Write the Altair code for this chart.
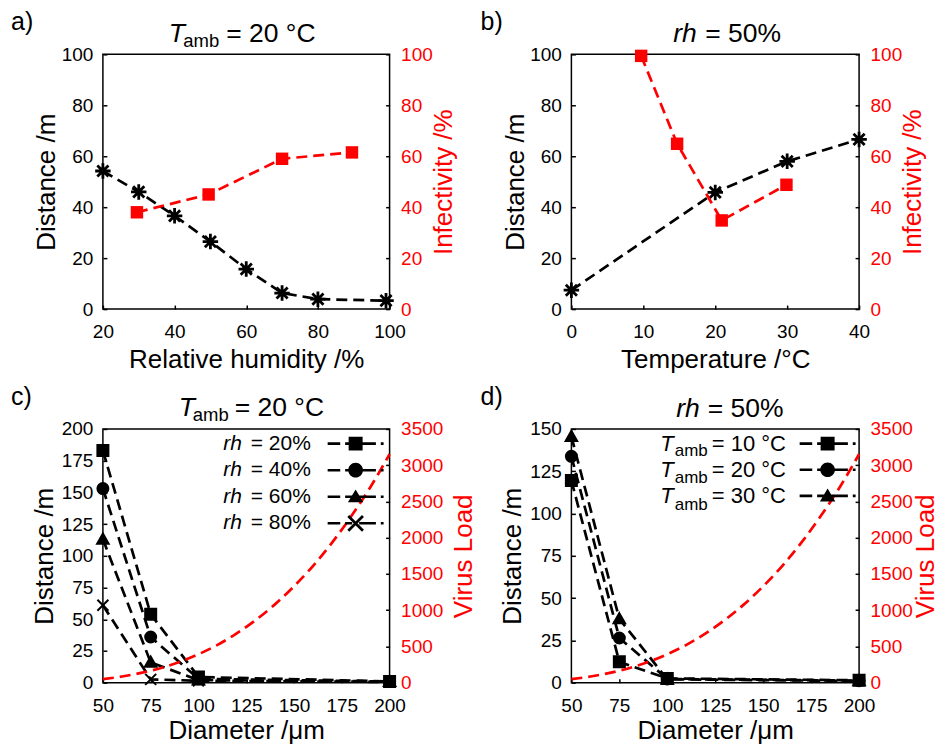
import altair as alt
import pandas as pd

FONT = "Liberation Sans"
RED = "#ff0000"
BLACK = "#000000"

# ---------------- data ----------------
# a) T_amb = 20 °C : distance and infectivity vs relative humidity
a_rh = [20, 30, 40, 50, 60, 70, 80, 99]
a_distance = [54.2, 46.0, 36.6, 26.5, 15.7, 6.3, 3.9, 3.3]
a_inf_rh = [29.5, 49.5, 70, 89.5]
a_infectivity = [38.0, 45.0, 59.0, 61.5]

# b) rh = 50% : distance and infectivity vs temperature
b_temp = [0, 20, 30, 40]
b_distance = [7.4, 45.8, 58.0, 66.6]
b_inf_temp = [9.7, 14.7, 20.9, 29.9]
b_infectivity = [99.4, 64.9, 34.8, 48.8]

# c), d) distance vs droplet diameter
diameters = [50, 75, 100, 200]
c_series = ["rh = 20%", "rh = 40%", "rh = 60%", "rh = 80%"]
c_rh20 = [183.0, 54.0, 4.5, 1.0]
c_rh40 = [153.0, 36.0, 3.0, 0.9]
c_rh60 = [113.0, 16.0, 2.0, 0.8]
c_rh80 = [61.0, 2.6, 1.5, 0.6]
d_series = ["Tamb = 10 °C", "Tamb = 20 °C", "Tamb = 30 °C"]
d_t10 = [119.5, 12.3, 2.5, 1.4]
d_t20 = [133.8, 26.4, 2.2, 1.2]
d_t30 = [145.5, 37.7, 2.0, 1.0]

# virus load (red dashed curve)
vl_diameter = [50, 60, 70, 80, 90, 100, 110, 120, 130, 140, 150, 160, 170, 180, 190, 200]
vl_load = [48, 85, 135, 200, 285, 392, 522, 680, 865, 1080, 1330, 1612, 1935, 2298, 2700, 3152]

# axis ticks
a_xticks = [20, 40, 60, 80, 100]
b_xticks = [0, 10, 20, 30, 40]
cd_xticks = [50, 75, 100, 125, 150, 175, 200]
pct_ticks = [0, 20, 40, 60, 80, 100]
c_yticks = [0, 25, 50, 75, 100, 125, 150, 175, 200]
d_yticks = [0, 25, 50, 75, 100, 125, 150]
vl_ticks = [0, 500, 1000, 1500, 2000, 2500, 3000, 3500]

# texts
panel_labels = ["a)", "b)", "c)", "d)"]
x_titles = ["Relative humidity /%", "Temperature /°C", "Diameter /μm", "Diameter /μm"]
dist_title = "Distance /m"
inf_title = "Infectivity /%"
vl_title = "Virus Load"
c_legend_rest = ["= 20%", "= 40%", "= 60%", "= 80%"]
d_legend_rest = ["= 10 °C", "= 20 °C", "= 30 °C"]

# ---------------- styles ----------------
W1, W2 = 287, 288
H1, H2 = 255, 254
DASH = [11, 6]
LW = 2.7
TFS = 26.5  # panel title font size

ASTER = "M-1,0H1M0,-1V1M-0.72,-0.72L0.72,0.72M-0.72,0.72L0.72,-0.72"
SQ = "M-1,-1H1V1H-1Z"
CIRC = "M-1,0A1,1 0 1,1 1,0A1,1 0 1,1 -1,0Z"
TRI = "M0,-1.05L1.05,0.8H-1.05Z"
XC = "M-1,-1L1,1M-1,1L1,-1"


def _rect(x1, x2, t=0.18):
    return f"M{x1:.2f},{-t:.2f}H{x2:.2f}V{t:.2f}H{x1:.2f}Z"


def leg_path(c, kind):
    # legend sample built only from filled pieces (all wound the same way): dash, dash, marker, dash, dot
    p = _rect(c - 4, c - 2.2) + _rect(c - 1.5, c - 0.5) + _rect(c + 0.5, c + 2.9) + _rect(c + 3.6, c + 4.0)
    if kind == "sq":
        p += f"M{c-1.0:.2f},-1.0H{c+1.0:.2f}V1.0H{c-1.0:.2f}Z"
    elif kind == "ci":
        p += f"M{c-1.05:.2f},0A1.05,1.05 0 1,1 {c+1.05:.2f},0A1.05,1.05 0 1,1 {c-1.05:.2f},0Z"
    elif kind == "tr":
        p += f"M{c:.2f},-1.05L{c+1.1:.2f},0.8H{c-1.1:.2f}Z"
    else:
        a, d = 1.05, 0.14
        p += (f"M{c-a+d:.2f},{-a-d:.2f}L{c+a+d:.2f},{a-d:.2f}L{c+a-d:.2f},{a+d:.2f}L{c-a-d:.2f},{-a+d:.2f}Z"
              f"M{c+a-d:.2f},{-a-d:.2f}L{c+a+d:.2f},{-a+d:.2f}L{c-a+d:.2f},{a+d:.2f}L{c-a-d:.2f},{a-d:.2f}Z")
    return p


def x_enc(domain, values, title, w, ty):
    return alt.X("x:Q", scale=alt.Scale(domain=domain, nice=False, zero=False),
                 axis=alt.Axis(orient="bottom", values=values, title=title, offset=-4, tickSize=4,
                               labelPadding=13.5, format="d", titleX=w / 2, titleY=ty,
                               titleAlign="center", titleBaseline="alphabetic", titleAngle=0))


def y_left(domain, values, h, tx):
    return alt.Y("y:Q", scale=alt.Scale(domain=domain, nice=False, zero=False),
                 axis=alt.Axis(orient="left", values=values, title=dist_title, offset=-4, tickSize=4,
                               labelPadding=10, format="d", titleAngle=270, titleX=tx, titleY=h / 2,
                               titleAlign="center", titleBaseline="alphabetic"))


def y_right(domain, values, title, h, tx):
    return alt.Y("y:Q", scale=alt.Scale(domain=domain, nice=False, zero=False),
                 axis=alt.Axis(orient="right", values=values, title=title, offset=-4, tickSize=4,
                               labelPadding=11, format="d", labelColor=RED, titleColor=RED,
                               titleAngle=270, titleX=tx, titleY=h / 2, titleAlign="center",
                               titleBaseline="alphabetic"))


def txt(s, x, y, size, style="normal"):
    return alt.Chart(pd.DataFrame({"t": [s]})).mark_text(
        align="left", baseline="alphabetic", font=FONT, fontSize=size, fontStyle=style, color=BLACK
    ).encode(text="t:N", x=alt.value(x), y=alt.value(y))


def title_T(x_t, x_amb, x_rest, y, rest):
    return [txt("T", x_t, y, TFS, "italic"), txt("amb", x_amb, y + 5, 18.5), txt(rest, x_rest, y, TFS)]


def title_rh(x_rh, x_rest, y, rest):
    return [txt("rh", x_rh, y, TFS, "italic"), txt(rest, x_rest, y, TFS)]


def legend(fs, **kw):
    # labels start at the legend origin (label offset = minus the entry offset)
    return alt.Legend(title=None, orient="none", direction="vertical", padding=0,
                      labelFont=FONT, labelColor=BLACK, labelLimit=400, labelBaseline="middle",
                      labelAlign="left", labelFontSize=fs, labelOffset={"expr": str(-fs)}, **kw)


# ---------------- panels a and b ----------------
def panel_ab(xs, ds, ixs, ivs, xdom, xticks, xtitle, w, h, txl, txr, label, lx, ly, titles):
    ddf = pd.DataFrame({"x": xs, "y": ds})
    idf = pd.DataFrame({"x": ixs, "y": ivs})
    xe = x_enc(xdom, xticks, xtitle, w, 62.5)
    yl = y_left([0, 100], pct_ticks, h, txl)
    yr = y_right([0, 100], pct_ticks, inf_title, h, txr)
    left = alt.layer(
        alt.Chart(ddf).mark_line(color=BLACK, strokeDash=DASH, strokeWidth=LW).encode(x=xe, y=yl),
        alt.Chart(ddf).mark_point(shape=ASTER, size=240, filled=False, color=BLACK, strokeWidth=2.8,
                                  opacity=1).encode(x=xe, y=yl),
    )
    right = alt.layer(
        alt.Chart(idf).mark_line(color=RED, strokeDash=DASH, strokeWidth=LW).encode(x=xe, y=yr),
        alt.Chart(idf).mark_square(size=155, color=RED, filled=True, opacity=1).encode(x=xe, y=yr),
    )
    layers = [left, right, txt(label, lx, ly, 25)] + titles
    return alt.layer(*layers).resolve_scale(y="independent").properties(width=w, height=h)


pa = panel_ab(a_rh, a_distance, a_inf_rh, a_infectivity, [20, 100], a_xticks, x_titles[0], W1, H1,
              -52, 66, panel_labels[0], -92, -24.5, title_T(66, 80.5, 123.5, -12, "= 20 °C"))
pb = panel_ab(b_temp, b_distance, b_inf_temp, b_infectivity, [0, 40], b_xticks, x_titles[1], W2, H1,
              -52, 65, panel_labels[1], -91, -24.5, title_rh(102, 134, -12, "= 50%"))


# ---------------- panels c and d ----------------
def panel_cd(series, vals, ydom, yticks, w, h, label, lx, ly, titles, legends, marks, txr):
    rows = []
    for s, v in zip(series, vals):
        for x, y in zip(diameters, v):
            rows.append({"x": x, "y": y, "s": s})
    ddf = pd.DataFrame(rows)
    vdf = pd.DataFrame({"x": vl_diameter, "y": vl_load})
    xe = x_enc([50, 200], cd_xticks, x_titles[2], w, 60)
    yl = y_left(ydom, yticks, h, -54.5)
    yr = y_right([0, 3500], vl_ticks, vl_title, h, txr)
    left = alt.layer(
        alt.Chart(ddf).mark_line(color=BLACK, strokeDash=DASH, strokeWidth=LW).encode(
            x=xe, y=yl, detail="s:N"),
        alt.Chart(ddf).mark_point(filled=True, fill=BLACK, stroke=BLACK, strokeWidth=2, size=121,
                                  opacity=1).encode(
            x=xe, y=yl, shape=alt.Shape("s:N", scale=alt.Scale(domain=series, range=marks), legend=None)),
    )
    right = alt.Chart(vdf).mark_line(color=RED, strokeDash=DASH, strokeWidth=LW,
                                     interpolate="monotone").encode(x=xe, y=yr)
    layers = [left, right] + legends + [txt(label, lx, ly, 25)] + titles
    return alt.layer(*layers).resolve_scale(
        y="independent", shape="independent", fill="independent", stroke="independent"
    ).properties(width=w, height=h)


# legend of c  (rows ~26 px apart; text, then line+marker sample)
c_leg_df = pd.DataFrame({"lab": c_legend_rest, "lab_rh": c_legend_rest})
cY = 4.2
cC = (253 - 148 - 10.5) / 7
c_leg_sym = alt.Chart(c_leg_df).transform_filter("false").mark_point(
    filled=True, fill=BLACK, size=196, opacity=1
).encode(shape=alt.Shape("lab:N", scale=alt.Scale(
    domain=c_legend_rest, range=[leg_path(cC, k) for k in ["sq", "ci", "tr", "x"]]),
    legend=legend(21, legendX=148, legendY=cY, rowPadding=4.6, symbolSize=196, symbolStrokeWidth=0,
                  symbolFillColor=BLACK, symbolOpacity=1)))
c_leg_rh = alt.Chart(c_leg_df).transform_filter("false").mark_point(size=0, opacity=0).encode(
    fill=alt.Fill("lab_rh:N", scale=alt.Scale(domain=c_legend_rest),
                  legend=legend(21, legendX=120.5, legendY=cY, rowPadding=4.6, labelFontStyle="italic",
                                labelExpr="'rh'", symbolSize=0, symbolStrokeWidth=0, symbolOpacity=0)))

pc = panel_cd(c_series, [c_rh20, c_rh40, c_rh60, c_rh80], [0, 200], c_yticks, W1, H2,
              panel_labels[2], -92, -24.3, title_T(76, 90, 132, -12.5, "= 20 °C"),
              [c_leg_sym, c_leg_rh], [SQ, CIRC, TRI, XC], 86)

# legend of d
d_leg_df = pd.DataFrame({"lab": d_legend_rest, "lab_t": d_legend_rest, "lab_amb": d_legend_rest})
dY = 3.7
dLX = 140.5
dC = (256.5 - dLX - 11) / 7
d_leg_sym = alt.Chart(d_leg_df).transform_filter("false").mark_point(
    filled=True, fill=BLACK, size=196, opacity=1
).encode(shape=alt.Shape("lab:N", scale=alt.Scale(
    domain=d_legend_rest, range=[leg_path(dC, k) for k in ["sq", "ci", "tr"]]),
    legend=legend(22, legendX=dLX, legendY=dY, rowPadding=4.15, symbolSize=196, symbolStrokeWidth=0,
                  symbolFillColor=BLACK, symbolOpacity=1)))
d_leg_t = alt.Chart(d_leg_df).transform_filter("false").mark_point(size=0, opacity=0).encode(
    fill=alt.Fill("lab_t:N", scale=alt.Scale(domain=d_legend_rest),
                  legend=legend(22, legendX=89, legendY=dY, rowPadding=4.15, labelFontStyle="italic",
                                labelExpr="'T'", symbolSize=0, symbolStrokeWidth=0, symbolOpacity=0)))
d_leg_amb = alt.Chart(d_leg_df).transform_filter("false").mark_point(size=0, opacity=0).encode(
    stroke=alt.Stroke("lab_amb:N", scale=alt.Scale(domain=d_legend_rest),
                      legend=legend(17, legendX=103.5, legendY=dY + 9.5, rowPadding=9.15,
                                    labelExpr="'amb'", symbolSize=0, symbolStrokeWidth=0, symbolOpacity=0)))

pd_ = panel_cd(d_series, [d_t10, d_t20, d_t30], [0, 150], d_yticks, W2, H2,
               panel_labels[3], -91, -24.3, title_rh(105, 136.5, -11.5, "= 50%"),
               [d_leg_sym, d_leg_t, d_leg_amb], [SQ, CIRC, TRI], 78)

chart = alt.concat(pa, pb, pc, pd_, columns=2, spacing={"row": 120, "column": 182},
                   bounds="flush").properties(
    padding={"left": 2, "top": 0, "right": 0, "bottom": 0}, background="white"
).configure_view(stroke=BLACK, strokeWidth=1.5).configure_axis(
    labelFont=FONT, labelFontSize=19, titleFont=FONT, titleFontSize=26, titleFontWeight="normal",
    grid=False, domain=False, tickColor=BLACK, tickWidth=1.5, labelColor=BLACK, titleColor=BLACK,
    labelFlush=False, labelOverlap=False
)

chart.save("out.html", embed_options={"renderer": "svg", "actions": False})
